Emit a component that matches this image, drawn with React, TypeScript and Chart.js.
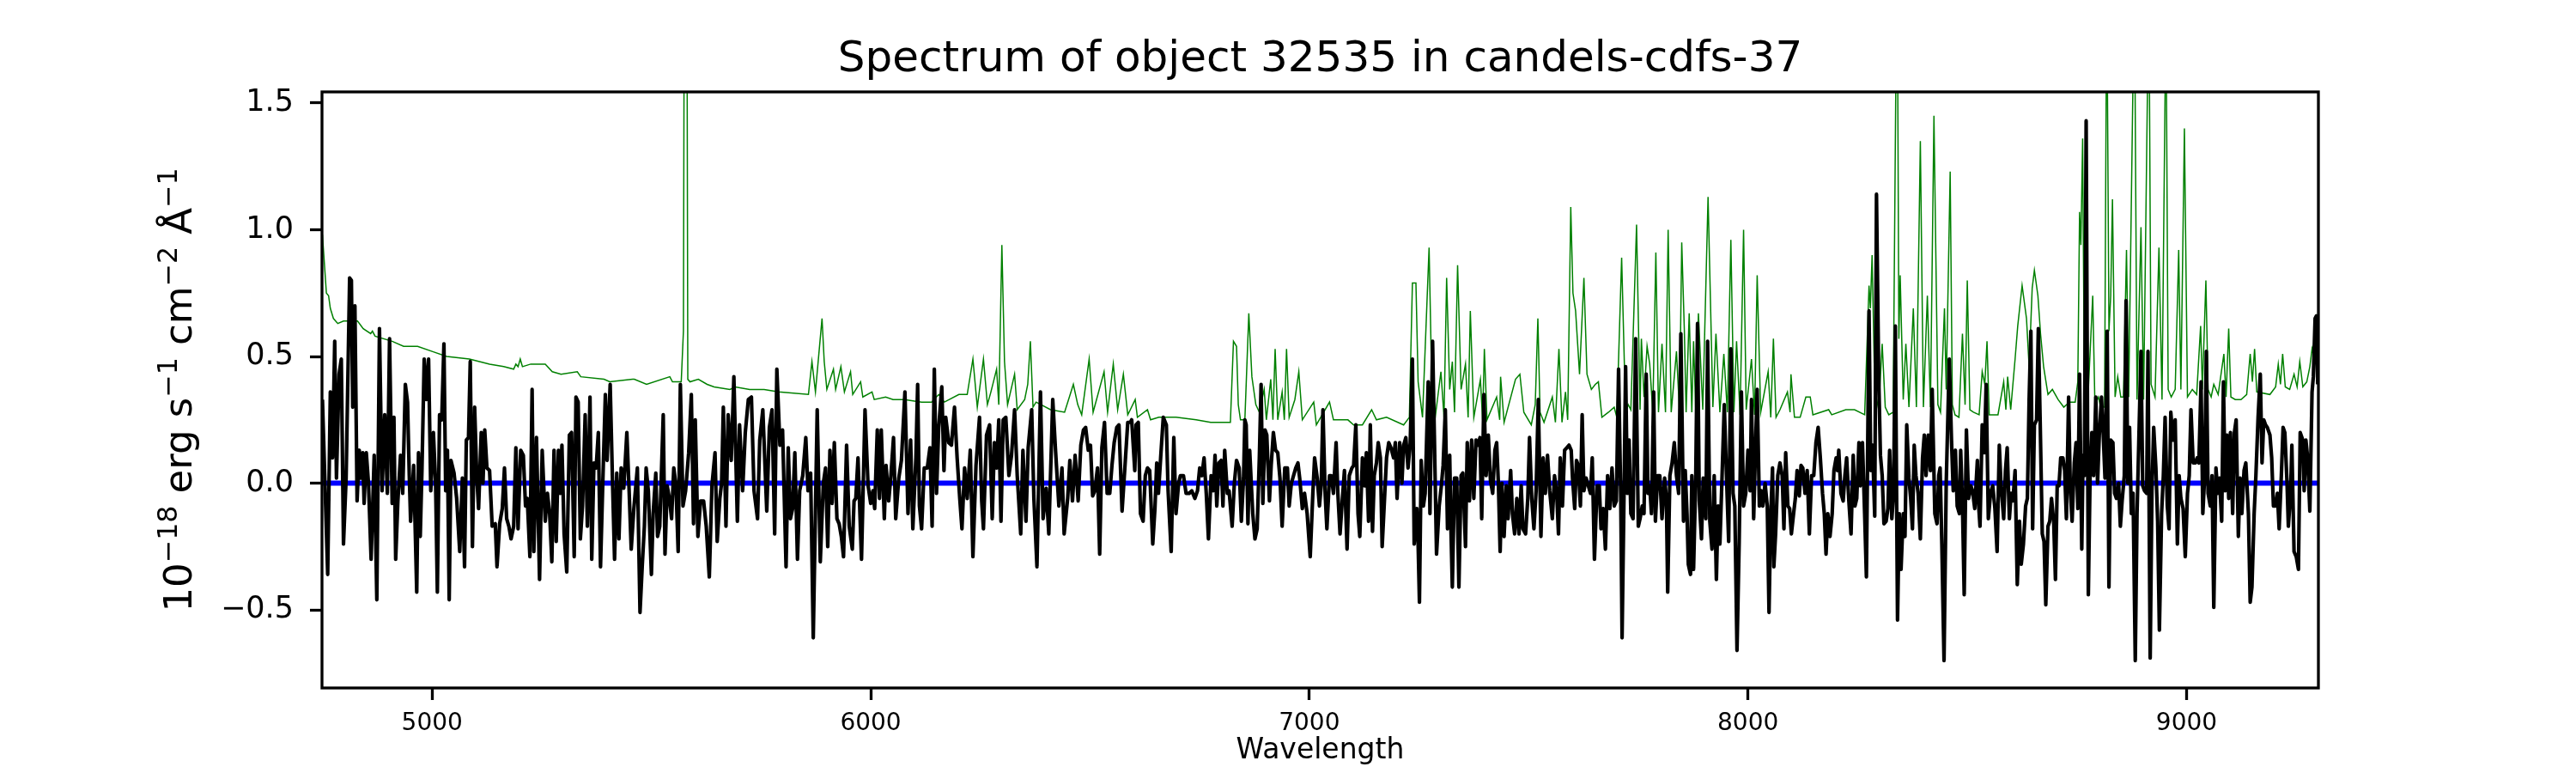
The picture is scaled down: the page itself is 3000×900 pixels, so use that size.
import React, { useEffect, useRef } from "react";
import { Chart, registerables } from "chart.js";

Chart.register(...registerables);

const FONT = "'DejaVu Sans', 'Liberation Sans', sans-serif";

const TITLE = "Spectrum of object 32535 in candels-cdfs-37";
const X_LABEL = "Wavelength";
const Y_LABEL_TEXT = ["10", "\u221218", " erg s", "\u22121", " cm", "\u22122", " \u00C5", "\u22121"];
const Y_LABEL_SUP = [false, true, false, true, false, true, false, true];

const X_TICKS = [5000, 6000, 7000, 8000, 9000];
const X_TICK_LABELS = ["5000", "6000", "7000", "8000", "9000"];
const Y_TICKS = [-0.5, 0, 0.5, 1.0, 1.5];
const Y_TICK_LABELS = ["\u22120.5", "0.0", "0.5", "1.0", "1.5"];
const X_MIN = 4749;
const X_MAX = 9300.5;
const Y_MIN = -0.808;
const Y_MAX = 1.544;

// zero reference line
const ZERO_WAVE = [4749, 9300.5];
const ZERO_FLUX = [0, 0];

// observed flux (black), 4750-5675 A
const BLACK_WAVE_1 = [
  4750, 4762, 4768, 4773, 4778, 4782, 4788, 4793, 4798, 4804,
  4812, 4816, 4819, 4824, 4829, 4834, 4838, 4842, 4845, 4850,
  4855, 4861, 4868, 4874, 4880, 4886, 4892, 4898, 4903, 4909,
  4913, 4917, 4922, 4928, 4933, 4939, 4944, 4948, 4951, 4958,
  4965, 4969, 4973, 4977, 4982, 4987, 4992, 4997, 5003, 5008,
  5012, 5017, 5022, 5027, 5031, 5035, 5039, 5043, 5050, 5056,
  5063, 5069, 5074, 5078, 5083, 5087, 5092, 5097, 5102, 5106,
  5112, 5116, 5120, 5125, 5131, 5137, 5144, 5148, 5154, 5160,
  5165, 5170, 5175, 5180, 5186, 5191, 5196, 5202, 5208, 5213,
  5217, 5223, 5228, 5232, 5238, 5245, 5251, 5258, 5263, 5268,
  5273, 5278, 5283, 5288, 5292, 5296, 5301, 5307, 5313, 5318,
  5324, 5328, 5333, 5338, 5343, 5349, 5354, 5360, 5364, 5369,
  5374, 5379, 5384, 5389, 5395, 5399, 5406, 5411, 5416, 5421,
  5426, 5431, 5437, 5444, 5449, 5454, 5460, 5468, 5474, 5479,
  5484, 5488, 5493, 5500, 5504, 5510, 5514, 5519, 5527, 5531,
  5536, 5541, 5546, 5551, 5556, 5561, 5566, 5572, 5578, 5585,
  5591, 5596, 5600, 5606, 5612, 5619, 5625, 5632, 5638, 5645,
  5650, 5656, 5660, 5664, 5670, 5675,
];
const BLACK_FLUX_1 = [
  0.33, -0.36, 0.36, 0.10, 0.56, 0.02, 0.43, 0.49, -0.24, 0.02,
  0.81, 0.80, 0.30, 0.70, -0.07, 0.13, 0.02, 0.12, -0.08, 0.12,
  0.00, -0.30, 0.11, -0.46, 0.61, -0.03, 0.27, -0.04, 0.57, -0.08,
  0.26, -0.30, -0.07, 0.11, -0.04, 0.39, 0.32, 0.03, -0.15, 0.07,
  -0.43, 0.12, -0.21, 0.06, 0.49, 0.33, 0.49, -0.03, 0.20, 0.00,
  -0.43, 0.27, 0.25, 0.55, -0.03, 0.13, -0.46, 0.09, 0.04, -0.06,
  -0.27, 0.02, -0.33, 0.17, 0.18, 0.48, -0.25, 0.30, 0.02, -0.10,
  0.20, 0.00, 0.21, 0.06, 0.05, -0.17, -0.16, -0.33, -0.16, -0.10,
  0.06, -0.14, -0.17, -0.22, -0.17, 0.14, -0.18, 0.13, 0.11, -0.09,
  -0.06, -0.29, 0.37, -0.27, 0.18, -0.38, 0.13, -0.15, -0.04, -0.12,
  -0.31, 0.13, -0.23, 0.13, -0.04, 0.15, -0.20, -0.35, 0.19, 0.20,
  -0.29, 0.34, 0.32, -0.22, -0.09, 0.27, -0.17, 0.34, -0.30, 0.08,
  0.06, 0.20, -0.33, -0.01, 0.35, 0.09, 0.39, 0.03, -0.30, 0.04,
  -0.22, 0.06, -0.02, 0.20, -0.02, -0.26, -0.10, 0.06, -0.51, -0.33,
  -0.17, 0.06, -0.03, -0.36, -0.12, 0.04, -0.21, -0.17, 0.27, -0.28,
  -0.01, -0.06, -0.14, 0.06, -0.01, -0.27, 0.39, -0.09, -0.03, 0.12,
  0.35, -0.16, 0.25, -0.21, -0.07, -0.07, -0.17, -0.37, -0.01, 0.12,
  -0.23, -0.06, 0.00, 0.30, -0.17, 0.27,
];

// 5682-6592 A
const BLACK_WAVE_2 = [
  5682, 5688, 5696, 5701, 5708, 5714, 5721, 5728, 5734, 5742,
  5747, 5754, 5763, 5769, 5775, 5781, 5786, 5793, 5799, 5807,
  5812, 5817, 5822, 5827, 5833, 5838, 5845, 5852, 5857, 5863,
  5869, 5878, 5885, 5892, 5897, 5902, 5907, 5912, 5917, 5923,
  5928, 5933, 5938, 5945, 5951, 5958, 5962, 5966, 5971, 5979,
  5987, 5994, 6000, 6005, 6009, 6015, 6020, 6024, 6031, 6035,
  6041, 6046, 6052, 6057, 6064, 6070, 6078, 6085, 6091, 6096,
  6103, 6107, 6111, 6116, 6122, 6129, 6135, 6140, 6145, 6150,
  6155, 6162, 6167, 6171, 6178, 6184, 6191, 6197, 6203, 6208,
  6214, 6220, 6227, 6233, 6240, 6248, 6253, 6257, 6264, 6271,
  6277, 6282, 6287, 6292, 6297, 6302, 6308, 6315, 6321, 6328,
  6334, 6342, 6347, 6354, 6359, 6367, 6372, 6379, 6387, 6393,
  6400, 6406, 6415, 6421, 6429, 6436, 6441, 6449, 6454, 6460,
  6466, 6473, 6479, 6485, 6490, 6496, 6501, 6506, 6511, 6517,
  6522, 6527, 6533, 6539, 6545, 6550, 6555, 6561, 6566, 6573,
  6579, 6586, 6592,
];
const BLACK_FLUX_2 = [
  0.09, 0.42, -0.15, 0.23, -0.03, 0.20, 0.33, 0.34, -0.03, -0.14,
  0.17, 0.29, -0.11, 0.22, 0.29, -0.20, 0.45, 0.15, 0.21, -0.33,
  0.14, -0.14, -0.10, 0.12, -0.30, -0.03, 0.03, 0.18, -0.03, 0.04,
  -0.61, 0.29, -0.31, 0.00, 0.06, -0.25, 0.13, -0.08, 0.16, -0.14,
  -0.16, -0.21, -0.29, 0.15, -0.17, -0.26, -0.07, -0.06, 0.10, -0.30,
  0.29, -0.01, -0.08, -0.03, -0.10, 0.21, -0.06, 0.21, -0.14, 0.07,
  -0.07, 0.03, 0.18, -0.14, 0.02, 0.09, 0.36, -0.12, 0.17, -0.18,
  0.10, 0.39, -0.09, -0.18, 0.06, 0.06, 0.14, -0.17, 0.45, -0.04,
  0.22, 0.38, 0.05, 0.26, 0.16, 0.15, 0.30, 0.10, -0.06, -0.18,
  0.06, -0.06, 0.13, -0.29, 0.07, 0.26, -0.07, -0.18, 0.19, 0.23,
  -0.14, 0.16, 0.06, 0.25, -0.15, 0.25, 0.26, 0.03, 0.11, 0.29,
  0.03, -0.20, 0.13, -0.15, 0.14, 0.29, -0.06, -0.33, 0.36, -0.14,
  -0.02, -0.20, 0.33, 0.14, -0.09, 0.06, -0.20, -0.06, 0.09, -0.07,
  0.11, -0.07, 0.15, 0.21, 0.22, 0.13, 0.15, -0.05, -0.03, 0.06,
  -0.28, 0.14, 0.24, -0.04, -0.04, 0.07, 0.16, 0.22, 0.23, -0.11,
  0.05, 0.24, 0.24,
];

// 6595-7517 A
const BLACK_WAVE_3 = [
  6595, 6602, 6605, 6610, 6615, 6621, 6626, 6631, 6636, 6643,
  6648, 6652, 6656, 6661, 6667, 6674, 6678, 6685, 6691, 6696,
  6702, 6706, 6713, 6719, 6726, 6732, 6739, 6745, 6750, 6755,
  6760, 6765, 6770, 6776, 6781, 6785, 6789, 6794, 6799, 6803,
  6807, 6813, 6817, 6824, 6829, 6834, 6840, 6845, 6850, 6853,
  6856, 6860, 6864, 6867, 6871, 6876, 6881, 6886, 6890, 6894,
  6899, 6903, 6909, 6913, 6918, 6923, 6928, 6933, 6938, 6944,
  6950, 6954, 6959, 6964, 6969, 6974, 6978, 6984, 6989, 6995,
  7002, 7008, 7012, 7018, 7023, 7027, 7031, 7036, 7040, 7046,
  7050, 7055, 7061, 7065, 7070, 7075, 7080, 7086, 7091, 7097,
  7101, 7106, 7111, 7115, 7121, 7126, 7130, 7135, 7139, 7144,
  7148, 7153, 7157, 7162, 7166, 7172, 7176, 7181, 7186, 7192,
  7196, 7200, 7206, 7211, 7215, 7220, 7225, 7230, 7235, 7239,
  7245, 7248, 7251, 7255, 7260, 7264, 7271, 7275, 7281, 7285,
  7290, 7296, 7301, 7305, 7310, 7315, 7320, 7323, 7326, 7331,
  7336, 7341, 7346, 7350, 7356, 7360, 7365, 7370, 7375, 7380,
  7385, 7389, 7393, 7398, 7403, 7408, 7413, 7418, 7423, 7427,
  7431, 7435, 7439, 7444, 7449, 7453, 7459, 7463, 7468, 7473,
  7478, 7483, 7487, 7493, 7498, 7502, 7507, 7512, 7517,
];
const BLACK_FLUX_3 = [
  0.25, 0.05, 0.23, 0.24, -0.12, -0.15, 0.03, 0.06, 0.05, -0.24,
  -0.10, 0.08, -0.04, 0.10, 0.26, 0.23, -0.03, -0.27, 0.18, -0.12,
  0.00, 0.03, 0.03, -0.04, -0.04, -0.03, -0.06, -0.03, 0.06, 0.03,
  0.10, -0.04, -0.22, 0.03, -0.03, 0.11, -0.09, 0.08, 0.09, -0.09,
  0.13, -0.04, -0.03, -0.17, 0.00, 0.09, 0.06, -0.15, 0.02, 0.25,
  0.23, -0.16, 0.13, 0.02, -0.12, -0.22, -0.18, 0.10, 0.39, -0.08,
  0.21, 0.19, -0.07, 0.07, 0.20, 0.13, 0.12, 0.02, -0.17, 0.06,
  0.06, -0.09, 0.00, 0.03, 0.06, 0.08, 0.02, -0.10, -0.04, -0.12,
  -0.29, -0.04, 0.10, 0.02, -0.09, -0.01, 0.29, -0.04, -0.18, 0.03,
  0.03, -0.04, 0.16, -0.04, -0.20, -0.07, 0.05, -0.26, 0.03, 0.06,
  0.07, 0.23, -0.12, -0.21, 0.10, -0.01, 0.12, -0.15, 0.23, -0.19,
  0.03, 0.08, 0.16, 0.10, -0.25, -0.04, 0.10, 0.16, 0.14, 0.10,
  0.16, -0.06, 0.16, 0.00, 0.15, 0.18, 0.06, 0.16, 0.49, -0.24,
  -0.10, -0.24, -0.47, 0.09, -0.09, -0.04, 0.40, -0.12, 0.56, 0.19,
  -0.28, -0.09, -0.01, 0.07, 0.29, -0.18, 0.11, -0.19, -0.41, 0.02,
  0.02, -0.41, 0.03, 0.04, -0.25, 0.16, -0.07, 0.17, -0.06, 0.17,
  0.15, 0.18, -0.14, 0.35, 0.03, 0.19, 0.01, -0.04, 0.13, 0.16,
  0.00, -0.27, 0.00, -0.21, -0.01, -0.14, 0.05, -0.12, -0.20, -0.06,
  -0.20, -0.01, -0.18, -0.20, -0.06, 0.18, -0.06, -0.18, -0.03,
];

// 7522-8442 A
const BLACK_WAVE_4 = [
  7522, 7528, 7533, 7538, 7543, 7548, 7554, 7559, 7564, 7568,
  7572, 7577, 7582, 7587, 7592, 7597, 7600, 7605, 7609, 7613,
  7618, 7622, 7626, 7631, 7636, 7641, 7645, 7650, 7656, 7661,
  7665, 7670, 7675, 7680, 7685, 7690, 7695, 7700, 7705, 7710,
  7713, 7718, 7721, 7725, 7729, 7733, 7738, 7744, 7750, 7754,
  7759, 7763, 7768, 7772, 7776, 7780, 7785, 7789, 7794, 7799,
  7804, 7810, 7814, 7817, 7822, 7827, 7832, 7837, 7842, 7847,
  7853, 7857, 7861, 7864, 7869, 7872, 7876, 7881, 7885, 7889,
  7894, 7898, 7904, 7908, 7913, 7918, 7923, 7928, 7932, 7936,
  7941, 7946, 7951, 7956, 7961, 7966, 7970, 7975, 7980, 7985,
  7990, 7995, 8000, 8005, 8008, 8013, 8018, 8021, 8026, 8030,
  8034, 8039, 8044, 8048, 8052, 8056, 8059, 8063, 8068, 8073,
  8078, 8082, 8086, 8091, 8095, 8099, 8104, 8108, 8112, 8117,
  8121, 8125, 8130, 8135, 8140, 8145, 8150, 8155, 8160, 8165,
  8170, 8174, 8178, 8182, 8187, 8192, 8196, 8201, 8204, 8207,
  8212, 8217, 8221, 8225, 8230, 8235, 8240, 8244, 8248, 8253,
  8256, 8261, 8266, 8270, 8276, 8280, 8284, 8289, 8293, 8298,
  8302, 8306, 8310, 8315, 8319, 8323, 8328, 8332, 8336, 8341,
  8345, 8349, 8354, 8358, 8362, 8367, 8371, 8375, 8379, 8383,
  8388, 8393, 8398, 8402, 8406, 8411, 8416, 8420, 8426, 8431,
  8435, 8438, 8442,
];
const BLACK_FLUX_4 = [
  0.33, -0.21, 0.10, -0.04, 0.11, -0.03, -0.14, 0.03, -0.04, -0.20,
  0.10, -0.09, 0.13, 0.14, 0.15, 0.13, 0.02, -0.10, 0.09, 0.07,
  -0.09, 0.27, -0.03, 0.02, -0.01, -0.04, 0.10, -0.30, -0.01, -0.01,
  -0.18, -0.10, -0.26, 0.03, -0.10, 0.06, -0.09, -0.07, 0.45, -0.06,
  -0.61, 0.03, 0.46, -0.04, 0.17, -0.12, -0.14, 0.57, -0.17, -0.14,
  -0.09, -0.12, 0.43, -0.04, -0.01, -0.12, 0.36, -0.15, 0.03, 0.03,
  -0.14, 0.02, -0.06, -0.43, 0.03, 0.08, 0.16, 0.03, -0.04, 0.59,
  -0.15, 0.05, -0.12, -0.32, -0.36, 0.03, -0.34, 0.03, 0.63, -0.07,
  -0.22, 0.02, -0.14, 0.56, -0.15, -0.26, 0.03, -0.38, -0.09, -0.24,
  0.03, 0.31, 0.03, -0.23, 0.53, -0.04, -0.09, -0.66, -0.23, 0.36,
  -0.09, -0.04, 0.13, -0.03, 0.33, -0.14, 0.19, 0.37, -0.09, -0.03,
  -0.09, 0.00, -0.09, -0.51, -0.12, 0.06, -0.33, -0.20, 0.03, 0.08,
  0.03, -0.18, 0.12, -0.09, -0.10, -0.20, -0.12, -0.06, 0.05, -0.05,
  0.07, 0.06, -0.04, 0.05, -0.20, 0.03, 0.03, 0.16, 0.22, 0.10,
  -0.04, -0.12, -0.28, -0.12, -0.21, -0.12, 0.05, 0.10, 0.05, 0.13,
  -0.04, -0.07, 0.03, 0.10, -0.07, -0.20, 0.11, -0.09, -0.06, 0.16,
  -0.01, 0.16, -0.12, -0.37, 0.68, 0.05, 0.15, -0.13, 1.14, 0.43,
  0.11, 0.03, -0.16, -0.15, -0.10, 0.13, -0.14, -0.04, 0.62, -0.54,
  -0.12, -0.34, -0.12, -0.21, 0.23, 0.02, -0.06, -0.18, 0.15, 0.03,
  -0.04, -0.22, 0.10, 0.19, 0.03, 0.19, 0.05, 0.37, -0.12, -0.16,
  0.03, 0.06, -0.24,
];

// 8447-9299 A
const BLACK_WAVE_5 = [
  8447, 8452, 8459, 8464, 8468, 8473, 8477, 8482, 8485, 8489,
  8493, 8498, 8503, 8508, 8512, 8517, 8523, 8526, 8529, 8534,
  8539, 8543, 8548, 8553, 8558, 8563, 8568, 8573, 8577, 8583,
  8587, 8591, 8596, 8600, 8604, 8609, 8614, 8619, 8623, 8628,
  8633, 8637, 8641, 8645, 8649, 8653, 8658, 8662, 8666, 8671,
  8675, 8679, 8684, 8688, 8692, 8697, 8701, 8705, 8709, 8713,
  8718, 8722, 8726, 8731, 8735, 8739, 8744, 8748, 8752, 8756,
  8761, 8764, 8767, 8771, 8776, 8780, 8784, 8788, 8793, 8797,
  8801, 8806, 8810, 8814, 8819, 8823, 8827, 8832, 8836, 8840,
  8845, 8849, 8853, 8858, 8862, 8866, 8870, 8874, 8878, 8883,
  8887, 8891, 8896, 8900, 8904, 8909, 8912, 8917, 8921, 8925,
  8930, 8934, 8938, 8943, 8947, 8951, 8956, 8960, 8964, 8969,
  8974, 8979, 8983, 8987, 8992, 8997, 9002, 9006, 9010, 9015,
  9020, 9024, 9028, 9033, 9037, 9041, 9045, 9049, 9054, 9058,
  9062, 9067, 9071, 9075, 9080, 9084, 9088, 9092, 9096, 9100,
  9105, 9109, 9113, 9118, 9122, 9126, 9131, 9135, 9141, 9145,
  9149, 9154, 9158, 9163, 9168, 9172, 9176, 9180, 9184, 9190,
  9194, 9198, 9203, 9207, 9211, 9216, 9220, 9224, 9229, 9232,
  9237, 9240, 9245, 9250, 9255, 9259, 9265, 9268, 9272, 9276,
  9281, 9286, 9289, 9293, 9296, 9299,
];
const BLACK_FLUX_5 = [
  -0.70, 0.00, 0.49, 0.17, -0.03, 0.13, -0.09, -0.12, 0.13, -0.08,
  -0.44, 0.21, -0.06, -0.01, -0.03, -0.10, 0.09, -0.09, -0.17, 0.23,
  0.12, 0.39, -0.14, -0.04, -0.01, -0.10, -0.27, 0.15, -0.01, -0.14,
  0.05, 0.14, -0.14, -0.04, -0.07, 0.05, -0.40, -0.15, -0.32, -0.24,
  -0.09, -0.06, 0.33, 0.60, -0.18, 0.23, 0.25, 0.61, 0.26, -0.20,
  -0.23, -0.48, -0.17, -0.15, -0.06, -0.15, -0.38, -0.01, -0.01, 0.10,
  0.10, 0.05, -0.14, 0.34, -0.03, -0.15, 0.08, 0.16, -0.10, 0.43,
  -0.26, 0.11, 0.03, 1.43, -0.44, 0.03, 0.20, 0.03, 0.34, 0.00,
  0.19, 0.34, 0.19, 0.02, 0.60, -0.41, 0.17, 0.16, -0.04, -0.06,
  0.00, -0.17, -0.07, 0.03, 0.72, 0.00, 0.22, -0.12, -0.04, -0.70,
  -0.12, 0.16, 0.52, -0.01, -0.03, -0.04, 0.52, -0.69, -0.03, 0.22,
  0.06, -0.15, -0.58, -0.12, 0.03, 0.26, -0.09, -0.18, 0.28, 0.17,
  0.25, -0.24, 0.03, -0.06, -0.10, -0.29, -0.04, 0.03, 0.29, 0.08,
  0.08, 0.10, 0.08, 0.40, -0.12, 0.02, 0.52, -0.04, -0.09, 0.03,
  -0.49, 0.06, -0.04, 0.02, -0.15, 0.40, -0.03, 0.19, -0.06, 0.20,
  -0.12, 0.20, 0.25, -0.21, 0.02, -0.12, 0.05, 0.08, -0.12, -0.47,
  -0.41, -0.12, 0.03, 0.26, 0.43, 0.08, 0.25, 0.23, 0.22, 0.19,
  0.10, -0.09, -0.09, -0.04, -0.18, 0.03, 0.22, 0.20, 0.00, -0.17,
  -0.04, 0.15, -0.27, -0.29, -0.34, 0.20, 0.17, -0.03, 0.17, 0.10,
  -0.11, 0.36, 0.42, 0.65, 0.66, 0.39,
];

// noise / sky spectrum (green)
const GREEN_WAVE = [
  4750, 4759, 4764, 4768, 4775, 4785, 4798, 4830, 4843, 4860,
  4864, 4870, 4909, 4935, 4967, 5000, 5033, 5085, 5131, 5163,
  5186, 5191, 5196, 5201, 5206, 5225, 5241, 5258, 5274, 5294,
  5331, 5339, 5392, 5405, 5457, 5461, 5489, 5542, 5548, 5568,
  5573, 5576, 5580, 5583, 5588, 5607, 5627, 5643, 5679, 5691,
  5724, 5757, 5790, 5858, 5866, 5874, 5889, 5894, 5900, 5915,
  5920, 5932, 5940, 5954, 5959, 5977, 5982, 6003, 6008, 6034,
  6051, 6077, 6116, 6139, 6155, 6168, 6201, 6220, 6233, 6243,
  6257, 6266, 6274, 6287, 6292, 6299, 6305, 6312, 6328, 6334,
  6351, 6358, 6364, 6370, 6377, 6410, 6442, 6462, 6472, 6481,
  6498, 6507, 6532, 6540, 6553, 6563, 6576, 6586, 6589, 6603,
  6608, 6631, 6638, 6657, 6696, 6742, 6775, 6820, 6827, 6834,
  6838, 6843, 6853, 6862, 6869, 6878, 6886, 6897, 6902, 6912,
  6917, 6922, 6928, 6938, 6943, 6948, 6954, 6967, 6976, 6984,
  7010, 7016, 7046, 7055, 7088, 7101, 7121, 7142, 7153, 7176,
  7215, 7228, 7235, 7243, 7248, 7258, 7273, 7279, 7287, 7300,
  7307, 7313, 7320, 7326, 7331, 7338, 7346, 7356, 7362, 7367,
  7375, 7390, 7395, 7399, 7405, 7427, 7434, 7436, 7444, 7470,
  7480, 7489, 7506, 7515, 7521, 7526, 7535, 7554, 7561, 7569,
  7576, 7584, 7589, 7596, 7601, 7607, 7616, 7626, 7633, 7643,
  7652, 7659, 7667, 7682, 7695, 7701, 7712, 7721, 7727, 7733,
  7746, 7754, 7757, 7763, 7770, 7776, 7783, 7790, 7796, 7804,
  7812, 7818, 7825, 7837, 7844, 7849, 7855, 7859, 7866, 7872,
  7876, 7881, 7887, 7897, 7909, 7915, 7920, 7927, 7936, 7945,
  7953, 7961, 7968, 7974, 7982, 7990, 7996, 8008, 8015, 8021,
  8029, 8046, 8052, 8058, 8064, 8073, 8090, 8096, 8098, 8106,
  8119, 8132, 8142, 8148, 8184, 8191, 8223, 8243, 8266, 8276,
  8279, 8283, 8289, 8298, 8306, 8313, 8321, 8331, 8340, 8344,
  8347, 8354, 8360, 8367, 8377, 8384, 8393, 8400, 8409, 8416,
  8424, 8433, 8439, 8448, 8452, 8461, 8466, 8472, 8481, 8489,
  8495, 8500, 8506, 8514, 8527, 8534, 8540, 8545, 8550, 8570,
  8583, 8588, 8592, 8599, 8609, 8615, 8625, 8635, 8641, 8648,
  8653, 8661, 8667, 8674, 8684, 8694, 8707, 8720, 8733, 8746,
  8752, 8756, 8759, 8763, 8767, 8775, 8786, 8791, 8799, 8804,
  8813, 8818, 8823, 8827, 8831, 8837, 8843, 8850, 8856, 8863,
  8868, 8881, 8887, 8896, 8902, 8914, 8919, 8928, 8937, 8944,
  8953, 8958, 8965, 8974, 8982, 8987, 8995, 9002, 9013, 9023,
  9032, 9036, 9044, 9049, 9056, 9062, 9072, 9085, 9090, 9096,
  9101, 9111, 9124, 9137, 9145, 9150, 9155, 9160, 9190, 9203,
  9209, 9214, 9219, 9225, 9235, 9245, 9252, 9258, 9265, 9274,
  9281, 9286, 9291, 9297, 9300,
];
const GREEN_FLUX = [
  0.98, 0.75, 0.74, 0.69, 0.65, 0.63, 0.64, 0.64, 0.61, 0.59,
  0.60, 0.58, 0.56, 0.54, 0.54, 0.52, 0.50, 0.49, 0.47, 0.46,
  0.45, 0.47, 0.46, 0.49, 0.46, 0.47, 0.47, 0.47, 0.44, 0.43,
  0.44, 0.42, 0.41, 0.40, 0.41, 0.41, 0.39, 0.42, 0.40, 0.40,
  0.60, 2.8, 2.8, 0.41, 0.40, 0.41, 0.39, 0.38, 0.37, 0.38,
  0.37, 0.37, 0.36, 0.35, 0.48, 0.36, 0.65, 0.48, 0.37, 0.45,
  0.37, 0.46, 0.36, 0.44, 0.35, 0.40, 0.34, 0.36, 0.33, 0.34,
  0.33, 0.33, 0.32, 0.32, 0.35, 0.32, 0.35, 0.35, 0.49, 0.30,
  0.49, 0.31, 0.36, 0.45, 0.31, 0.94, 0.48, 0.31, 0.43, 0.29,
  0.33, 0.39, 0.56, 0.30, 0.32, 0.29, 0.28, 0.39, 0.31, 0.27,
  0.49, 0.28, 0.44, 0.28, 0.47, 0.29, 0.43, 0.27, 0.28, 0.33,
  0.26, 0.29, 0.25, 0.26, 0.26, 0.25, 0.24, 0.24, 0.56, 0.54,
  0.31, 0.25, 0.25, 0.67, 0.42, 0.31, 0.28, 0.37, 0.25, 0.41,
  0.25, 0.53, 0.25, 0.36, 0.25, 0.53, 0.26, 0.33, 0.44, 0.25,
  0.32, 0.23, 0.32, 0.25, 0.25, 0.23, 0.23, 0.29, 0.25, 0.26,
  0.23, 0.26, 0.79, 0.79, 0.40, 0.26, 0.93, 0.40, 0.26, 0.44,
  0.26, 0.81, 0.37, 0.48, 0.28, 0.86, 0.37, 0.47, 0.26, 0.68,
  0.26, 0.41, 0.25, 0.53, 0.25, 0.34, 0.25, 0.42, 0.24, 0.41,
  0.43, 0.28, 0.23, 0.31, 0.65, 0.28, 0.24, 0.34, 0.24, 0.53,
  0.24, 0.36, 0.25, 1.09, 0.75, 0.68, 0.43, 0.81, 0.43, 0.37,
  0.39, 0.40, 0.26, 0.28, 0.30, 0.26, 0.89, 0.28, 0.31, 0.29,
  1.02, 0.29, 0.57, 0.34, 0.54, 0.47, 0.28, 0.91, 0.28, 0.55,
  0.28, 1.00, 0.28, 0.52, 0.28, 0.95, 0.60, 0.28, 0.67, 0.28,
  0.56, 0.28, 0.67, 0.29, 1.13, 0.68, 0.30, 0.59, 0.28, 0.51,
  0.28, 0.96, 0.28, 0.56, 0.27, 1.00, 0.29, 0.49, 0.27, 0.82,
  0.28, 0.44, 0.26, 0.57, 0.26, 0.29, 0.36, 0.28, 0.43, 0.26,
  0.26, 0.34, 0.34, 0.27, 0.29, 0.27, 0.29, 0.29, 0.27, 0.78,
  0.69, 0.90, 0.37, 0.29, 0.55, 0.30, 0.27, 0.28, 2.2, 0.57,
  0.82, 0.33, 0.55, 0.30, 0.69, 0.30, 1.35, 0.30, 0.74, 0.30,
  1.45, 0.31, 0.28, 0.69, 0.37, 1.23, 0.31, 0.27, 0.26, 0.59,
  0.31, 0.80, 0.29, 0.28, 0.27, 0.44, 0.39, 0.56, 0.27, 0.27,
  0.40, 0.29, 0.42, 0.29, 0.49, 0.62, 0.78, 0.65, 0.46, 0.77,
  0.84, 0.74, 0.59, 0.46, 0.35, 0.37, 0.33, 0.30, 0.32, 0.32,
  0.40, 1.07, 0.94, 1.36, 0.37, 0.33, 0.74, 0.31, 0.34, 0.30,
  0.30, 2.0, 0.60, 0.74, 1.12, 0.34, 0.42, 0.34, 0.34, 0.92,
  0.34, 2.0, 0.33, 1.01, 0.33, 2.0, 0.39, 0.34, 0.93, 0.33,
  1.9, 0.37, 0.34, 0.37, 0.92, 0.37, 1.40, 0.34, 0.37, 0.35,
  0.62, 0.37, 0.80, 0.37, 0.34, 0.39, 0.35, 0.51, 0.34, 0.61,
  0.34, 0.33, 0.33, 0.35, 0.51, 0.40, 0.53, 0.36, 0.35, 0.38,
  0.47, 0.39, 0.51, 0.38, 0.37, 0.43, 0.38, 0.48, 0.38, 0.40,
  0.46, 0.53, 0.49, 0.65, 0.62,
];

const BLACK_COLOR = "#000000";
const GREEN_COLOR = "#008000";
const BLUE_COLOR = "#0000ff";

function toPoints(w: number[], f: number[]) {
  const n = Math.min(w.length, f.length);
  const out: { x: number; y: number }[] = [];
  for (let i = 0; i < n; i++) out.push({ x: w[i], y: f[i] });
  return out;
}

const framePlugin = {
  id: "frame",
  afterDatasetsDraw(chart: any) {
    const { ctx, chartArea } = chart;
    ctx.save();
    ctx.strokeStyle = "#000";
    ctx.lineWidth = 3.3;
    ctx.strokeRect(chartArea.left, chartArea.top, chartArea.right - chartArea.left, chartArea.bottom - chartArea.top);
    ctx.restore();
  },
};

const textPlugin = {
  id: "texts",
  afterDraw(chart: any) {
    const { ctx, chartArea } = chart;
    const cx = (chartArea.left + chartArea.right) / 2;
    const cy = (chartArea.top + chartArea.bottom) / 2;
    ctx.save();
    ctx.fillStyle = "#000";
    ctx.textBaseline = "alphabetic";
    ctx.textAlign = "center";
    ctx.font = `50px ${FONT}`;
    ctx.fillText(TITLE, cx, 83);
    ctx.font = `33px ${FONT}`;
    ctx.fillText(X_LABEL, cx, 883);

    // rotated y label with superscripts
    const baseSize = 45;
    const supSize = baseSize * 0.7;
    const raise = 17;
    ctx.textAlign = "left";
    const widths = Y_LABEL_TEXT.map((t, i) => {
      ctx.font = `${Y_LABEL_SUP[i] ? supSize : baseSize}px ${FONT}`;
      return ctx.measureText(t).width;
    });
    const total = widths.reduce((a, b) => a + b, 0);
    ctx.translate(223, cy);
    ctx.rotate(-Math.PI / 2);
    let x = -total / 2;
    Y_LABEL_TEXT.forEach((t, i) => {
      ctx.font = `${Y_LABEL_SUP[i] ? supSize : baseSize}px ${FONT}`;
      ctx.fillText(t, x, Y_LABEL_SUP[i] ? -raise : 0);
      x += widths[i];
    });
    ctx.restore();
  },
};

export default function App() {
  const ref = useRef<HTMLCanvasElement>(null);

  useEffect(() => {
    const canvas = ref.current;
    if (!canvas) return;

    const black = [
      ...toPoints(BLACK_WAVE_1, BLACK_FLUX_1),
      ...toPoints(BLACK_WAVE_2, BLACK_FLUX_2),
      ...toPoints(BLACK_WAVE_3, BLACK_FLUX_3),
      ...toPoints(BLACK_WAVE_4, BLACK_FLUX_4),
      ...toPoints(BLACK_WAVE_5, BLACK_FLUX_5),
    ];
    const green = toPoints(GREEN_WAVE, GREEN_FLUX);
    const zero = toPoints(ZERO_WAVE, ZERO_FLUX);

    const chart = new Chart(canvas, {
      type: "line",
      data: {
        datasets: [
          {
            data: black,
            borderColor: BLACK_COLOR,
            borderWidth: 4.2,
            pointRadius: 0,
            tension: 0,
            fill: false,
            borderJoinStyle: "round",
            order: 0,
          },
          {
            data: green,
            borderColor: GREEN_COLOR,
            borderWidth: 1.5,
            pointRadius: 0,
            tension: 0,
            fill: false,
            order: 1,
          },
          {
            data: zero,
            borderColor: BLUE_COLOR,
            borderWidth: 6,
            pointRadius: 0,
            tension: 0,
            fill: false,
            order: 2,
          },
        ],
      } as any,
      options: {
        animation: false,
        responsive: false,
        devicePixelRatio: 1,
        events: [],
        layout: { padding: { left: 0, right: 300, top: 107, bottom: 0 } },
        plugins: {
          legend: { display: false },
          title: { display: false },
          tooltip: { enabled: false },
        },
        scales: {
          x: {
            type: "linear",
            position: "bottom",
            min: X_MIN,
            max: X_MAX,
            afterBuildTicks: (s: any) => {
              s.ticks = X_TICKS.map((v) => ({ value: v }));
            },
            afterFit: (s: any) => {
              s.height = 99;
            },
            grid: {
              display: true,
              drawOnChartArea: false,
              drawTicks: true,
              tickLength: 14,
              tickWidth: 3.3,
              tickColor: "#000",
              color: "#000",
            },
            border: { display: false },
            ticks: {
              autoSkip: false,
              maxRotation: 0,
              minRotation: 0,
              padding: 11,
              color: "#000",
              font: { family: FONT, size: 28 },
              callback: (v: any) => {
                const i = X_TICKS.findIndex((t) => Math.abs(t - Number(v)) < 1e-6);
                return i >= 0 ? X_TICK_LABELS[i] : "";
              },
            },
          },
          y: {
            type: "linear",
            position: "left",
            min: Y_MIN,
            max: Y_MAX,
            afterBuildTicks: (s: any) => {
              s.ticks = Y_TICKS.map((v) => ({ value: v }));
            },
            afterFit: (s: any) => {
              s.width = 375;
            },
            grid: {
              display: true,
              drawOnChartArea: false,
              drawTicks: true,
              tickLength: 14,
              tickWidth: 3.3,
              tickColor: "#000",
              color: "#000",
            },
            border: { display: false },
            ticks: {
              autoSkip: false,
              padding: 19,
              color: "#000",
              font: { family: FONT, size: 35 },
              callback: (v: any) => {
                const i = Y_TICKS.findIndex((t) => Math.abs(t - Number(v)) < 1e-6);
                return i >= 0 ? Y_TICK_LABELS[i] : "";
              },
            },
          },
        },
      } as any,
      plugins: [framePlugin, textPlugin],
    });

    return () => chart.destroy();
  }, []);

  return (
    <div
      style={{
        position: "absolute",
        left: 0,
        top: 0,
        width: 3000,
        height: 900,
        background: "#ffffff",
      }}
    >
      <canvas
        ref={ref}
        width={3000}
        height={900}
        style={{ display: "block", width: 3000, height: 900 }}
      />
    </div>
  );
}
